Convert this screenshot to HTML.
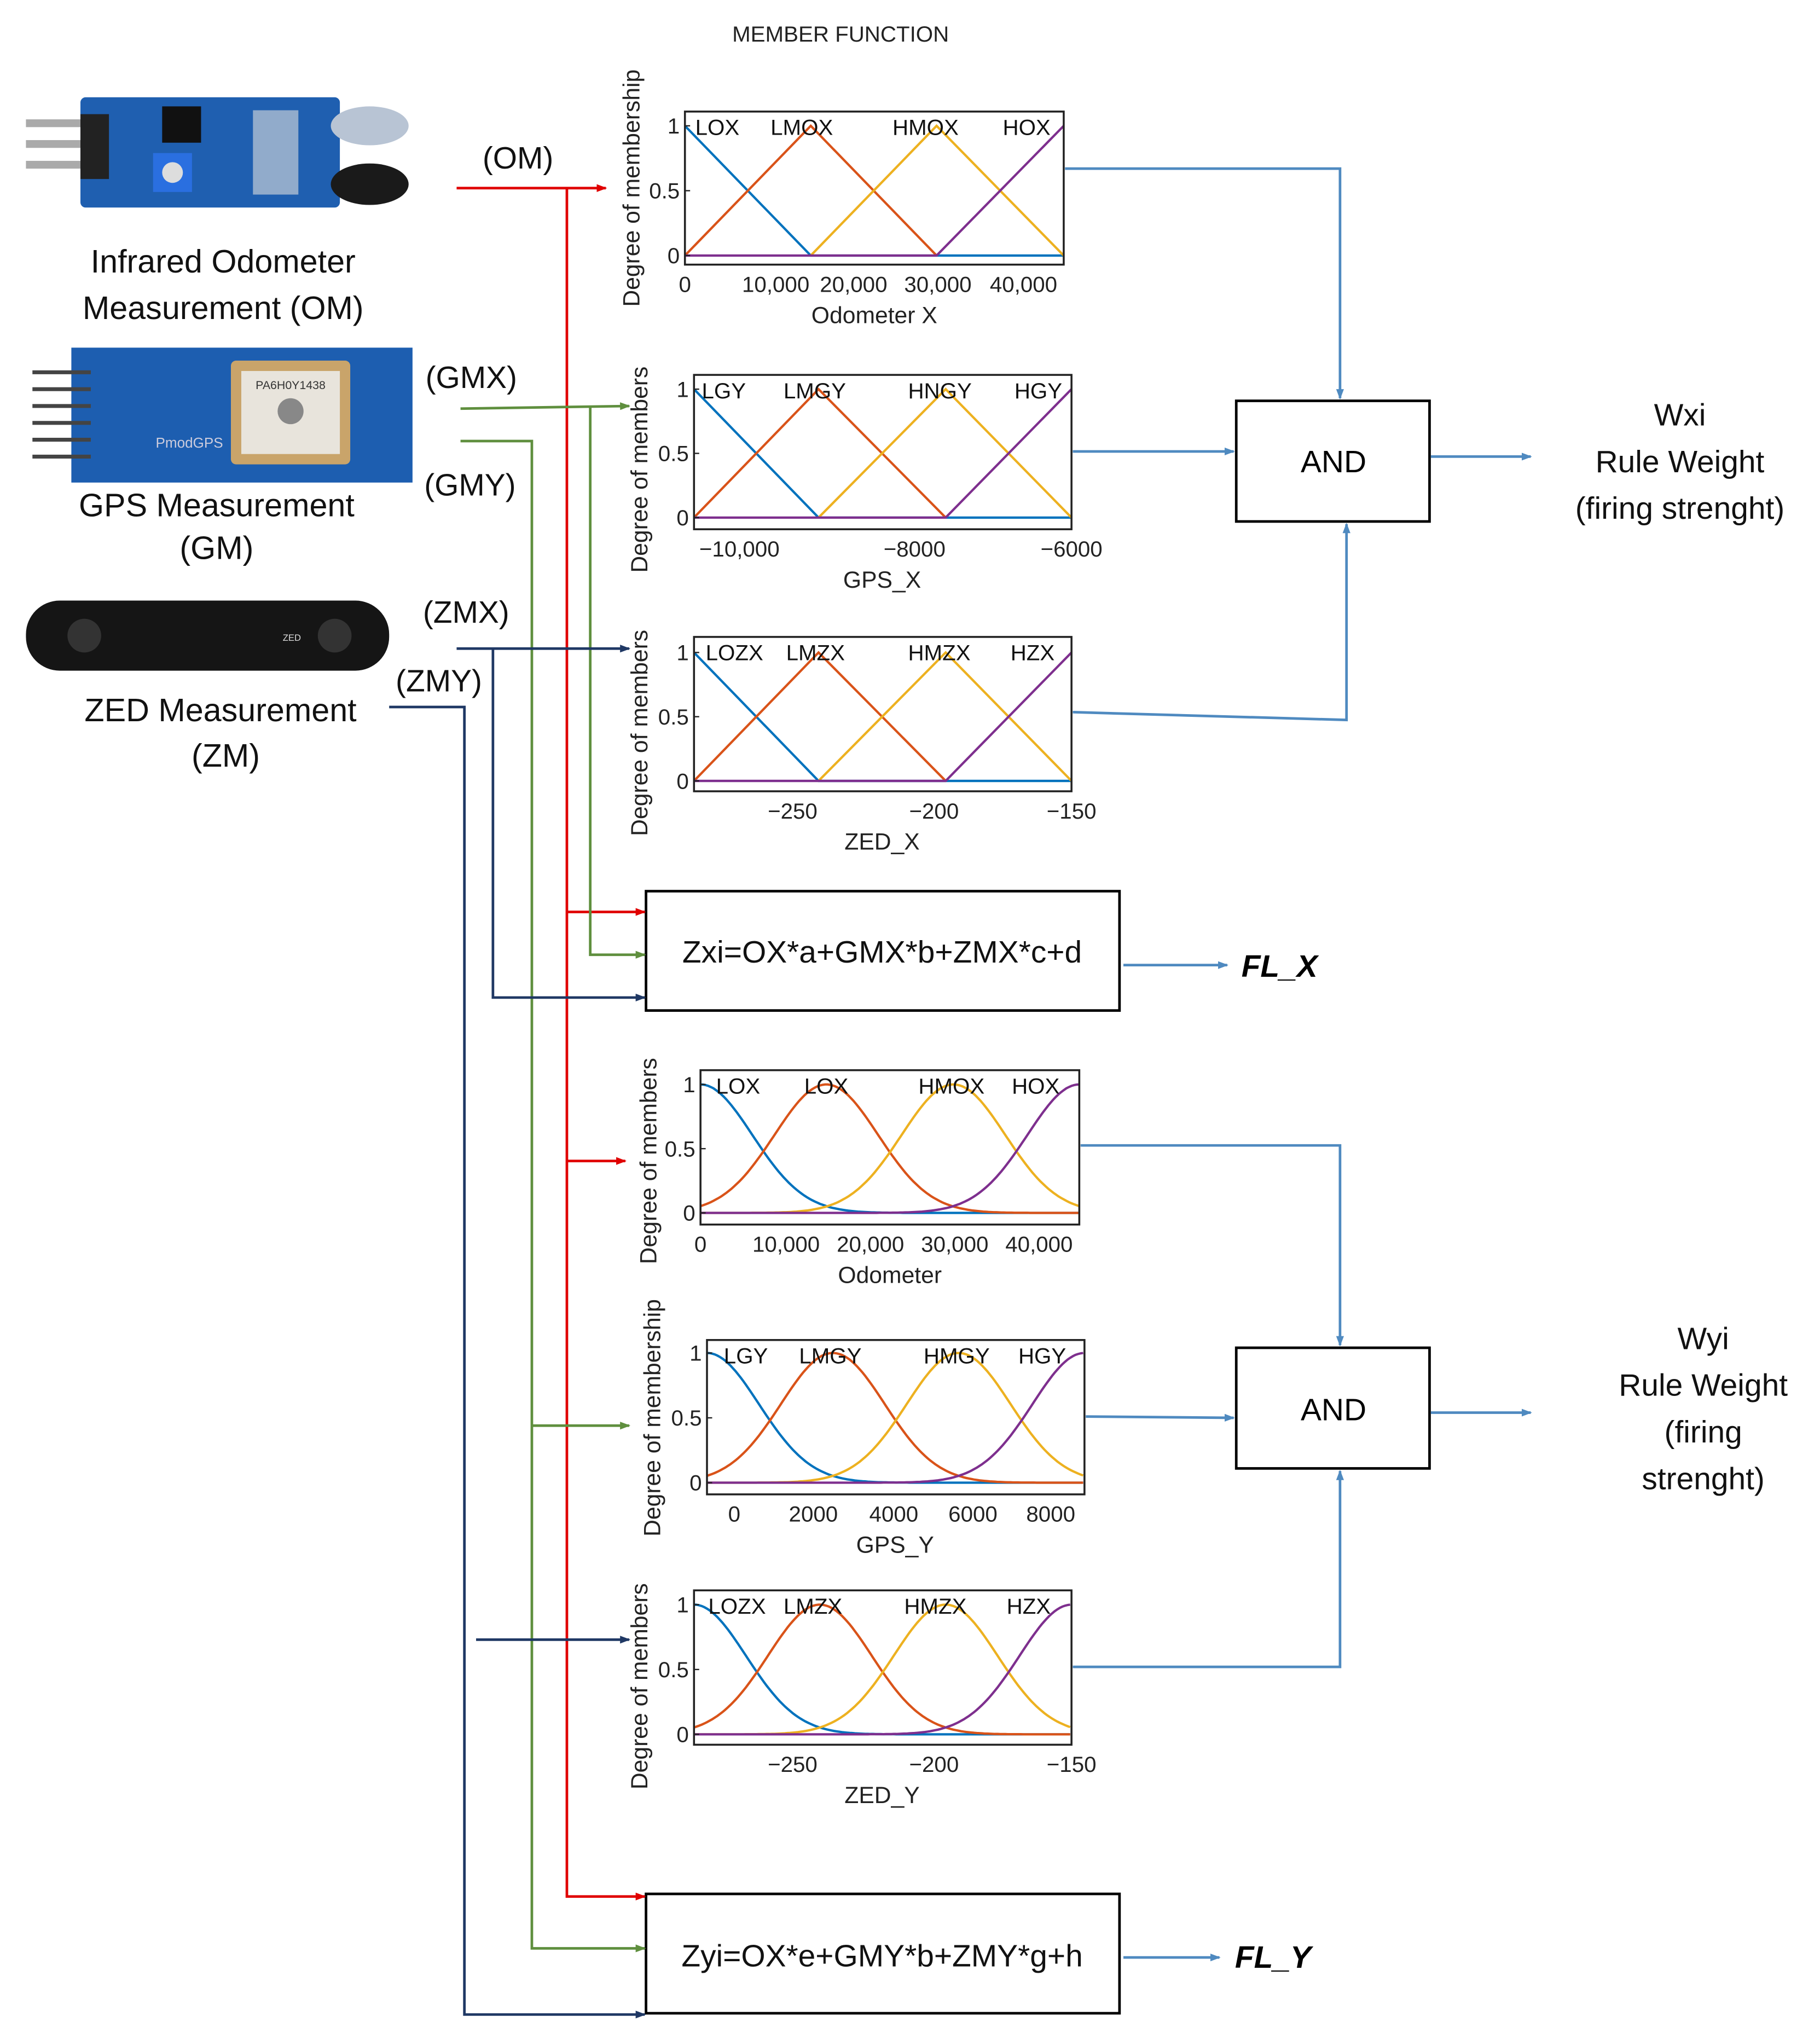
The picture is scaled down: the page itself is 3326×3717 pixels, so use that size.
<!DOCTYPE html>
<html><head><meta charset="utf-8">
<style>
html,body{margin:0;padding:0;background:#fff;}
svg{display:block;}
text{font-family:"Liberation Sans",Arial,sans-serif;}
</style></head>
<body>
<svg id="s" width="3326" height="3717" viewBox="0 0 1403 1568" preserveAspectRatio="none" xmlns="http://www.w3.org/2000/svg">
<defs>
<marker id="ab" markerWidth="8" markerHeight="8" refX="7" refY="4" orient="auto" markerUnits="userSpaceOnUse"><path d="M0,1 L8,4 L0,7z" fill="#4f8ac0"/></marker>
<marker id="ar" markerWidth="8" markerHeight="8" refX="7" refY="4" orient="auto" markerUnits="userSpaceOnUse"><path d="M0,1 L8,4 L0,7z" fill="#e00000"/></marker>
<marker id="ag" markerWidth="8" markerHeight="8" refX="7" refY="4" orient="auto" markerUnits="userSpaceOnUse"><path d="M0,1 L8,4 L0,7z" fill="#5f8f3e"/></marker>
<marker id="an" markerWidth="8" markerHeight="8" refX="7" refY="4" orient="auto" markerUnits="userSpaceOnUse"><path d="M0,1 L8,4 L0,7z" fill="#1f3864"/></marker>
</defs>
<rect width="1412" height="1578" fill="#fff"/>
<text x="648" y="32" font-size="17" text-anchor="middle" fill="#222">MEMBER FUNCTION</text>

<rect x="62" y="75" width="200" height="85" rx="4" fill="#1f5fb0"/>
<rect x="20" y="92" width="45" height="6" fill="#aaa"/><rect x="20" y="108" width="45" height="6" fill="#aaa"/><rect x="20" y="124" width="45" height="6" fill="#aaa"/>
<rect x="62" y="88" width="22" height="50" fill="#222"/>
<rect x="125" y="82" width="30" height="28" fill="#111"/>
<rect x="118" y="118" width="30" height="30" fill="#2a6fe0"/><circle cx="133" cy="133" r="8" fill="#ddd"/>
<rect x="195" y="85" width="35" height="65" fill="#ddd" opacity=".6"/>
<ellipse cx="285" cy="97" rx="30" ry="15" fill="#b8c4d4"/>
<ellipse cx="285" cy="142" rx="30" ry="16" fill="#1a1a1a"/>
<text x="172" y="210" font-size="25" text-anchor="middle" fill="#111">Infrared Odometer</text>
<text x="172" y="246" font-size="25" text-anchor="middle" fill="#111">Measurement (OM)</text>

<rect x="55" y="268" width="263" height="104" fill="#1d5eb0"/>
<g stroke="#444" stroke-width="3"><line x1="25" y1="287" x2="70" y2="287"/><line x1="25" y1="300" x2="70" y2="300"/><line x1="25" y1="313" x2="70" y2="313"/><line x1="25" y1="326" x2="70" y2="326"/><line x1="25" y1="339" x2="70" y2="339"/><line x1="25" y1="352" x2="70" y2="352"/></g>
<rect x="178" y="278" width="92" height="80" rx="4" fill="#c9a46a"/>
<rect x="186" y="286" width="76" height="64" fill="#e8e4dc"/>
<circle cx="224" cy="317" r="10" fill="#888"/>
<text x="224" y="300" font-size="9" text-anchor="middle" fill="#333">PA6H0Y1438</text>
<text x="120" y="345" font-size="11" fill="#ccd">PmodGPS</text>
<text x="167" y="398" font-size="25" text-anchor="middle" fill="#111">GPS Measurement</text>
<text x="167" y="431" font-size="25" text-anchor="middle" fill="#111">(GM)</text>

<rect x="20" y="463" width="280" height="54" rx="26" fill="#151515"/>
<circle cx="65" cy="490" r="13" fill="#333"/><circle cx="258" cy="490" r="13" fill="#333"/>
<text x="218" y="494" font-size="7" fill="#ddd">ZED</text>
<text x="170" y="556" font-size="25" text-anchor="middle" fill="#111">ZED Measurement</text>
<text x="174" y="591" font-size="25" text-anchor="middle" fill="#111">(ZM)</text>

<g font-size="24" fill="#111">
<text x="372" y="130">(OM)</text>
<text x="328" y="299">(GMX)</text>
<text x="327" y="382">(GMY)</text>
<text x="326" y="480">(ZMX)</text>
<text x="305" y="533">(ZMY)</text>
</g>

<g id="charts"></g>

<rect x="498" y="687" width="365" height="92" fill="#fff" stroke="#000" stroke-width="2"/>
<text x="680" y="742" font-size="24" text-anchor="middle" fill="#111">Zxi=OX*a+GMX*b+ZMX*c+d</text>
<rect x="498" y="1460" width="365" height="92" fill="#fff" stroke="#000" stroke-width="2"/>
<text x="680" y="1516" font-size="24" text-anchor="middle" fill="#111">Zyi=OX*e+GMY*b+ZMY*g+h</text>
<rect x="953" y="309" width="149" height="93" fill="#fff" stroke="#000" stroke-width="2"/>
<text x="1028" y="364" font-size="24" text-anchor="middle">AND</text>
<rect x="953" y="1039" width="149" height="93" fill="#fff" stroke="#000" stroke-width="2"/>
<text x="1028" y="1095" font-size="24" text-anchor="middle">AND</text>
<g font-size="24" text-anchor="middle" fill="#111">
<text x="1295" y="328">Wxi</text><text x="1295" y="364">Rule Weight</text><text x="1295" y="400">(firing strenght)</text>
<text x="1313" y="1040">Wyi</text><text x="1313" y="1076">Rule Weight</text><text x="1313" y="1112">(firing</text><text x="1313" y="1148">strenght)</text>
</g>
<text x="957" y="753" font-size="24" font-weight="bold" font-style="italic">FL_X</text>
<text x="952" y="1517" font-size="24" font-weight="bold" font-style="italic">FL_Y</text>

<g fill="none" stroke="#4f8ac0" stroke-width="2">
<polyline points="821,130 1033,130 1033,307" marker-end="url(#ab)"/>
<polyline points="827,348 951,348" marker-end="url(#ab)"/>
<polyline points="827,549 1038,555 1038,404" marker-end="url(#ab)"/>
<polyline points="1103,352 1180,352" marker-end="url(#ab)"/>
<polyline points="866,744 946,744" marker-end="url(#ab)"/>
<polyline points="833,883 1033,883 1033,1037" marker-end="url(#ab)"/>
<polyline points="837,1092 951,1093" marker-end="url(#ab)"/>
<polyline points="827,1285 1033,1285 1033,1134" marker-end="url(#ab)"/>
<polyline points="1103,1089 1180,1089" marker-end="url(#ab)"/>
<polyline points="866,1509 940,1509" marker-end="url(#ab)"/>
</g>
<g fill="none" stroke="#e00000" stroke-width="2">
<polyline points="352,145 467,145" marker-end="url(#ar)"/>
<polyline points="437,145 437,1462 497,1462" marker-end="url(#ar)"/>
<polyline points="437,703 497,703" marker-end="url(#ar)"/>
<polyline points="437,895 482,895" marker-end="url(#ar)"/>
</g>
<g fill="none" stroke="#5f8f3e" stroke-width="2">
<polyline points="355,315 485,313" marker-end="url(#ag)"/>
<polyline points="455,313 455,736 497,736" marker-end="url(#ag)"/>
<polyline points="355,340 410,340 410,1502 497,1502" marker-end="url(#ag)"/>
<polyline points="410,1099 485,1099" marker-end="url(#ag)"/>
</g>
<g fill="none" stroke="#1f3864" stroke-width="2">
<polyline points="352,500 485,500" marker-end="url(#an)"/>
<polyline points="380,500 380,769 497,769" marker-end="url(#an)"/>
<polyline points="300,545 358,545 358,1553 497,1553" marker-end="url(#an)"/>
<polyline points="367,1264 485,1264" marker-end="url(#an)"/>
</g>
</svg>
<script>
var NS="http://www.w3.org/2000/svg",G=document.getElementById("charts");
function el(t,a,txt){var e=document.createElementNS(NS,t);for(var k in a)e.setAttribute(k,a[k]);if(txt!==undefined)e.textContent=txt;G.appendChild(e);return e;}
var C=["#0072BD","#D95319","#EDB120","#7E2F8E"];
function chart(o){
 var x0=o.x0,x1=o.x1,yt=o.yt,yb=o.yb,y1=o.y1,y0=o.y0,pk=o.pk;
 function Y(v){return y0+(y1-y0)*v;}
 for(var i=0;i<4;i++){var pts=[];
  if(o.g){var s=o.s;for(var x=x0;x<=x1;x+=2){var v=Math.exp(-Math.pow(x-pk[i],2)/(2*s*s));pts.push(x+","+Y(v).toFixed(1));}}
  else{ if(i==0)pts=[x0+","+Y(1),pk[1]+","+Y(0),x1+","+Y(0)];
   else if(i==3)pts=[x0+","+Y(0),pk[2]+","+Y(0),x1+","+Y(1)];
   else pts=[pk[i-1]+","+Y(0),pk[i]+","+Y(1),pk[i+1]+","+Y(0)];}
  el("polyline",{points:pts.join(" "),fill:"none",stroke:C[i],"stroke-width":1.8});}
 el("rect",{x:x0,y:yt,width:x1-x0,height:yb-yt,fill:"none",stroke:"#222","stroke-width":1.5});
 [[1,"1"],[.5,"0.5"],[0,"0"]].forEach(function(t){el("text",{x:x0-4,y:Y(t[0])+6,"font-size":17,"text-anchor":"end",fill:"#222"},t[1]);el("line",{x1:x0,y1:Y(t[0]),x2:x0+4,y2:Y(t[0]),stroke:"#222"});});
 o.xt.forEach(function(t){el("text",{x:t[0],y:yb+21,"font-size":17,"text-anchor":"middle",fill:"#222"},t[1]);});
 el("text",{x:o.xlx,y:yb+45,"font-size":18,"text-anchor":"middle",fill:"#222"},o.xl);
 o.lb.forEach(function(t){el("text",{x:t[0],y:yt+18,"font-size":17,fill:"#111"},t[1]);});
 if(o.yl)el("text",{x:0,y:0,"font-size":18,"text-anchor":"middle",fill:"#222",transform:"translate("+o.ylx+","+o.yly+") rotate(-90)"},o.yl);
}
chart({x0:528,x1:820,yt:86,yb:204,y1:97,y0:197,pk:[528,625,722,820],xt:[[528,"0"],[598,"10,000"],[658,"20,000"],[723,"30,000"],[789,"40,000"]],xl:"Odometer X",xlx:674,lb:[[536,"LOX"],[594,"LMOX"],[688,"HMOX"],[773,"HOX"]],yl:"Degree of membership",ylx:493,yly:145});
chart({x0:535,x1:826,yt:289,yb:408,y1:300,y0:399,pk:[535,631,729,826],xt:[[570,"\u221210,000"],[705,"\u22128000"],[826,"\u22126000"]],xl:"GPS_X",xlx:680,lb:[[541,"LGY"],[604,"LMGY"],[700,"HNGY"],[782,"HGY"]],yl:"Degree of members",ylx:499,yly:362});
chart({x0:535,x1:826,yt:491,yb:610,y1:503,y0:602,pk:[535,631,729,826],xt:[[611,"\u2212250"],[720,"\u2212200"],[826,"\u2212150"]],xl:"ZED_X",xlx:680,lb:[[544,"LOZX"],[606,"LMZX"],[700,"HMZX"],[779,"HZX"]],yl:"Degree of members",ylx:499,yly:565});
chart({g:1,s:40,x0:540,x1:832,yt:825,yb:944,y1:836,y0:935,pk:[540,637,735,832],xt:[[540,"0"],[606,"10,000"],[671,"20,000"],[736,"30,000"],[801,"40,000"]],xl:"Odometer",xlx:686,lb:[[552,"LOX"],[620,"LOX"],[708,"HMOX"],[780,"HOX"]],yl:"Degree of members",ylx:506,yly:895});
chart({g:1,s:40,x0:545,x1:836,yt:1033,yb:1152,y1:1043,y0:1143,pk:[545,642,739,836],xt:[[566,"0"],[627,"2000"],[689,"4000"],[750,"6000"],[810,"8000"]],xl:"GPS_Y",xlx:690,lb:[[558,"LGY"],[616,"LMGY"],[712,"HMGY"],[785,"HGY"]],yl:"Degree of membership",ylx:509,yly:1093});
chart({g:1,s:40,x0:535,x1:826,yt:1226,yb:1345,y1:1237,y0:1337,pk:[535,632,729,826],xt:[[611,"\u2212250"],[720,"\u2212200"],[826,"\u2212150"]],xl:"ZED_Y",xlx:680,lb:[[546,"LOZX"],[604,"LMZX"],[697,"HMZX"],[776,"HZX"]],yl:"Degree of members",ylx:499,yly:1300});
</script>
</body></html>
